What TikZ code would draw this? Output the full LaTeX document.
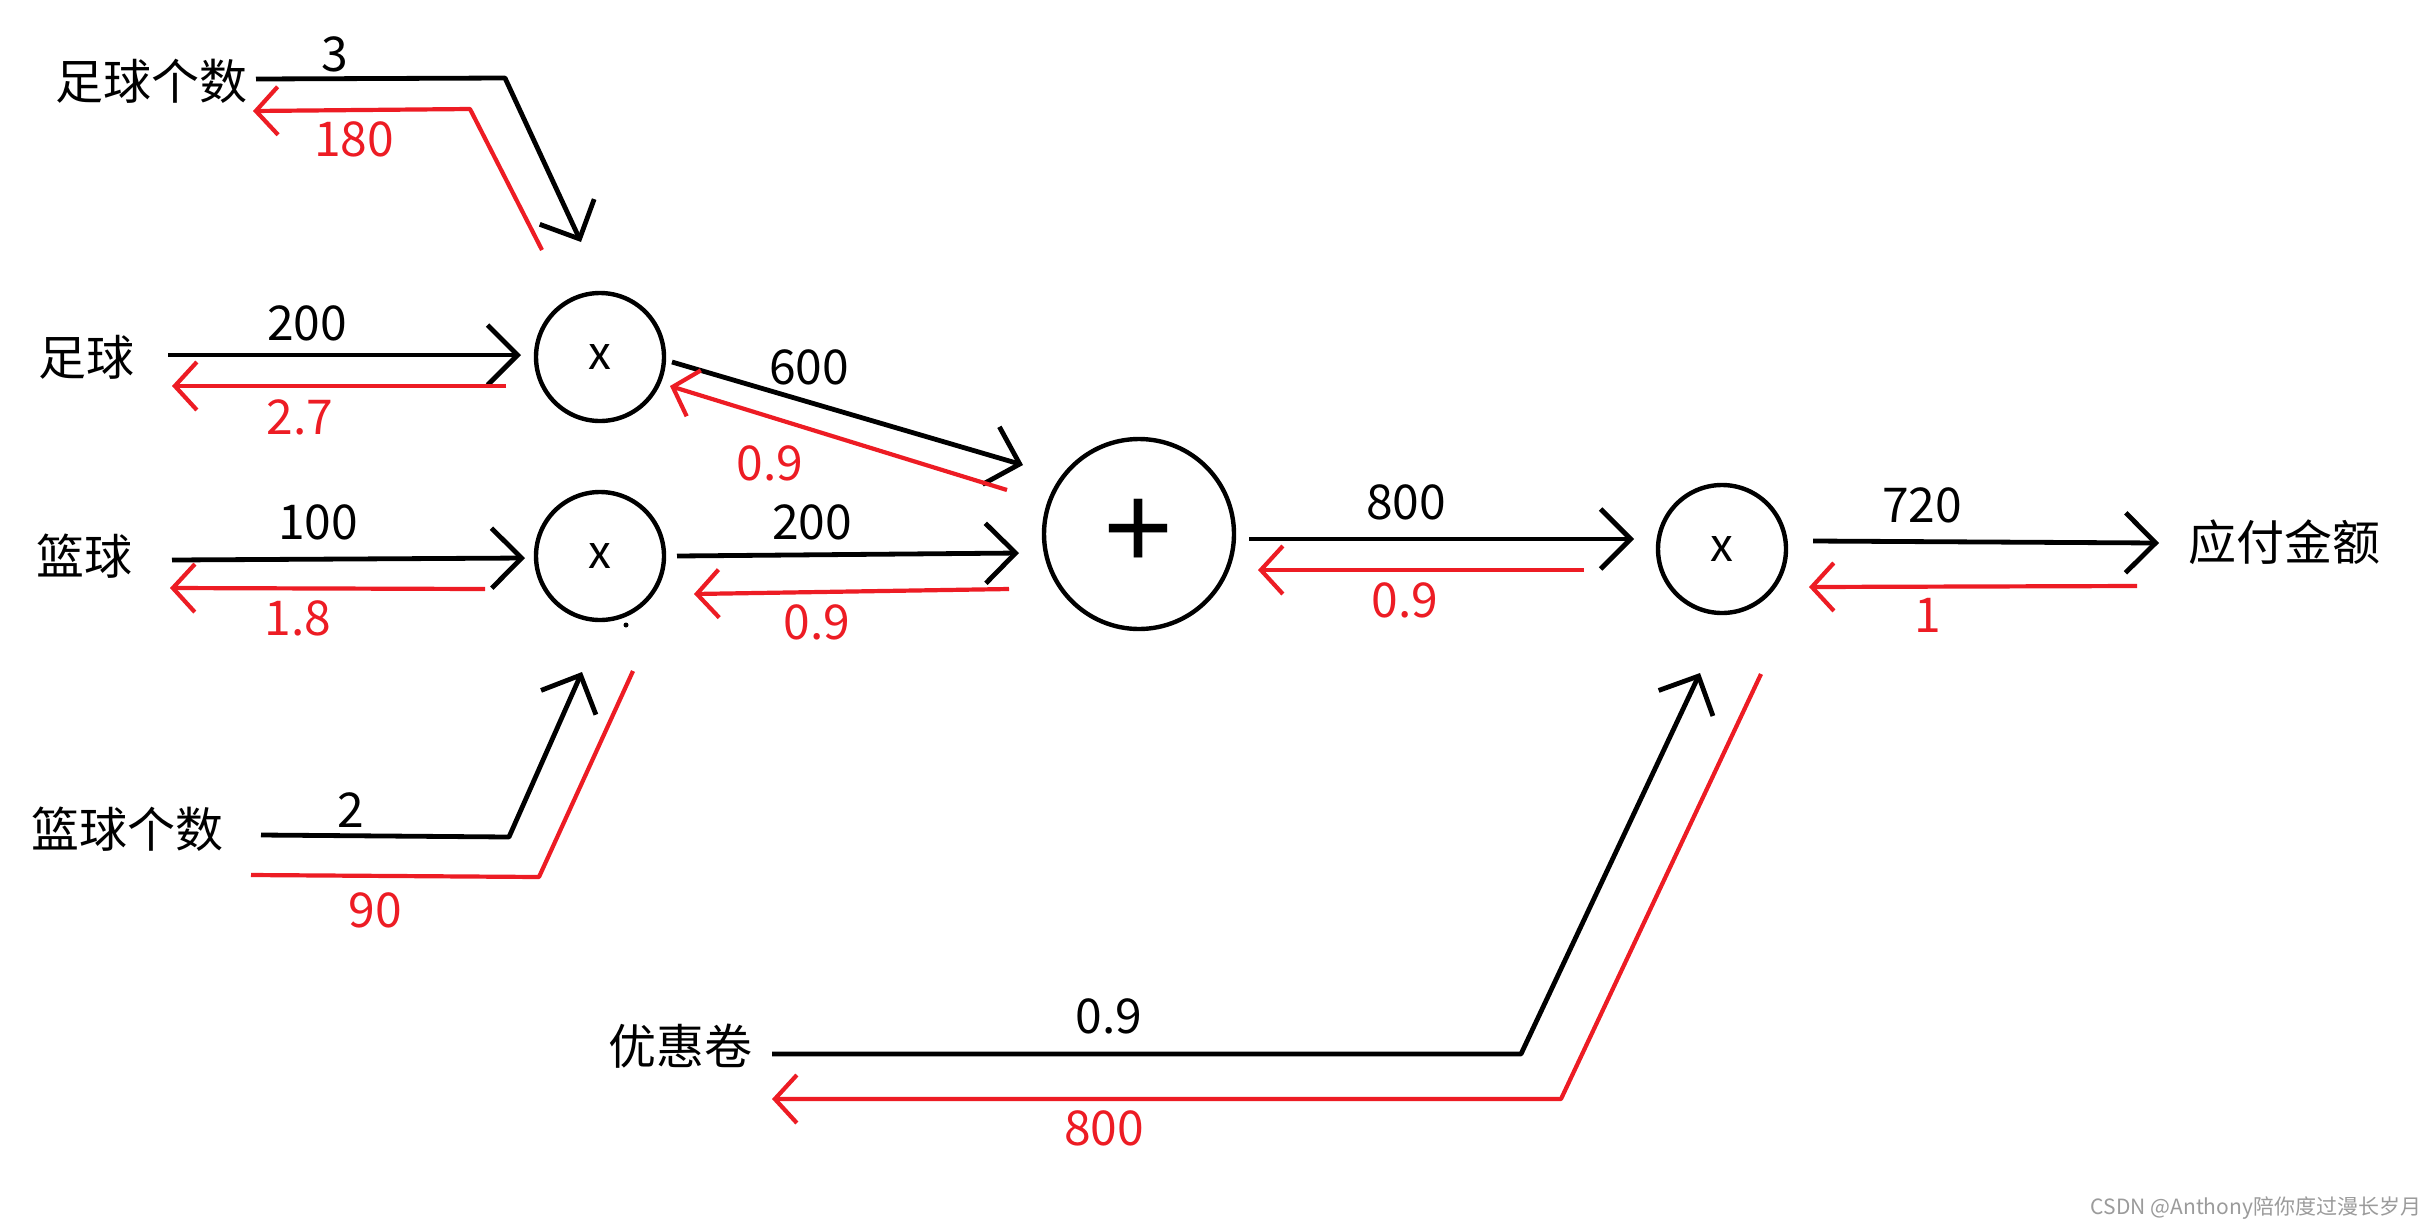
\documentclass[tikz,border=0pt]{standalone}
\usepackage{fontspec}
\setmainfont{Noto Sans CJK SC}
\newfontfamily\plusfont{Liberation Sans}
\usetikzlibrary{arrows.meta}
\definecolor{pred}{RGB}{237,28,36}
\definecolor{wmgray}{RGB}{155,155,155}
\begin{document}
\begin{tikzpicture}[x=0.5pt,y=-0.5pt,
  lbl/.style={font=\fontsize{24pt}{28pt}\selectfont, inner sep=0pt},
  blab/.style={lbl, text=black},
  rlab/.style={lbl, text=pred},
  op/.style={draw, circle, line width=2.2pt, minimum size=64pt, inner sep=0pt, font=\fontsize{23pt}{27pt}\selectfont},
  bigop/.style={op, minimum size=95pt},
  fwd/.style={draw=black, line width=2.4pt, line join=round, -{Straight Barb[length=15pt,width=30pt]}},
  bwd/.style={draw=pred, line width=2.1pt, line join=round, -{Straight Barb[length=11pt,width=24pt]}},
  bwdplain/.style={draw=pred, line width=2.1pt, line join=round},
]
\useasboundingbox[fill=white] (0,0) rectangle (2420,1227);

% input / output texts
\node[blab] (fbn) at (151,81) {足球个数};
\node[blab] (fb) at (87,357) {足球};
\node[blab] (bb) at (84,556) {篮球};
\node[blab] (bbn) at (128,829) {篮球个数};
\node[blab] (cp) at (680,1046) {优惠卷};
\node[blab] (pay) at (2284,542) {应付金额};

% operation nodes
\node[op] (m1) at (600,357) {x};
\node[op] (m2) at (600,556) {x};
\node[bigop] (add) at (1139,534) {\plusfont\fontsize{60pt}{62pt}\selectfont +};
\node[op] (m3) at (1722,549) {x};
\fill (626,625) circle (2.5);

% connector points
\coordinate (a1) at (256,79);  \coordinate (a2) at (505,78);  \coordinate (a3) at (581,242);
\coordinate (ar1) at (542,250); \coordinate (ar2) at (470,109); \coordinate (ar3) at (253,111);
\coordinate (b1) at (168,355); \coordinate (b2) at (521,355);
\coordinate (br1) at (506,386); \coordinate (br2) at (172,386);
\coordinate (c1) at (172,560); \coordinate (c2) at (525,558);
\coordinate (cr1) at (485,589); \coordinate (cr2) at (170,588);
\coordinate (d1) at (261,835); \coordinate (d2) at (509,837); \coordinate (d3) at (582,672);
\coordinate (dr1) at (633,671); \coordinate (dr2) at (539,877); \coordinate (dr3) at (251,875);
\coordinate (e1) at (672,362); \coordinate (e2) at (1023,465);
\coordinate (er1) at (1007,490); \coordinate (er2) at (670,386);
\coordinate (f1) at (677,556); \coordinate (f2) at (1019,553);
\coordinate (fr1) at (1009,589); \coordinate (fr2) at (694,594);
\coordinate (g1) at (1249,539); \coordinate (g2) at (1634,539);
\coordinate (gr1) at (1584,570); \coordinate (gr2) at (1258,570);
\coordinate (h1) at (1813,541); \coordinate (h2) at (2159,543);
\coordinate (hr1) at (2137,586); \coordinate (hr2) at (1809,587);
\coordinate (k1) at (772,1054); \coordinate (k2) at (1521,1054); \coordinate (k3) at (1700,673);
\coordinate (kr1) at (1761,674); \coordinate (kr2) at (1561,1099); \coordinate (kr3) at (772,1099);

% forward (black)
\draw[fwd] (a1) -- (a2) -- (a3);
\draw[fwd] (b1) -- (b2);
\draw[fwd] (c1) -- (c2);
\draw[fwd] (d1) -- (d2) -- (d3);
\draw[fwd] (e1) -- (e2);
\draw[fwd] (f1) -- (f2);
\draw[fwd] (g1) -- (g2);
\draw[fwd] (h1) -- (h2);
\draw[fwd] (k1) -- (k2) -- (k3);

% backward (red)
\draw[bwd] (ar1) -- (ar2) -- (ar3);
\draw[bwd] (br1) -- (br2);
\draw[bwd] (cr1) -- (cr2);
\draw[bwdplain] (dr1) -- (dr2) -- (dr3);
\draw[bwd] (er1) -- (er2);
\draw[bwd] (fr1) -- (fr2);
\draw[bwd] (gr1) -- (gr2);
\draw[bwd] (hr1) -- (hr2);
\draw[bwd] (kr1) -- (kr2) -- (kr3);

% labels
\node[blab] (la) at (335,54) {3};
\node[rlab] (lar) at (354,139) {180};
\node[blab] (lb) at (307,323) {200};
\node[rlab] (lbr) at (300,417) {2.7};
\node[blab] (lc) at (318,522) {100};
\node[rlab] (lcr) at (298,618) {1.8};
\node[blab] (ld) at (351,810) {2};
\node[rlab] (ldr) at (375,910) {90};
\node[blab] (le) at (809,367) {600};
\node[rlab] (ler) at (770,463) {0.9};
\node[blab] (lf) at (812,522) {200};
\node[rlab] (lfr) at (817,622) {0.9};
\node[blab] (lg) at (1406,502) {800};
\node[rlab] (lgr) at (1405,600) {0.9};
\node[blab] (lh) at (1922,505) {720};
\node[rlab] (lhr) at (1928,615) {1};
\node[blab] (lk) at (1109,1016) {0.9};
\node[rlab] (lkr) at (1104,1128) {800};

\node[inner sep=0pt, text=wmgray, font=\fontsize{10.5pt}{12pt}\selectfont] (wm) at (2256,1208) {CSDN @Anthony陪你度过漫长岁月};
\end{tikzpicture}
\end{document}
